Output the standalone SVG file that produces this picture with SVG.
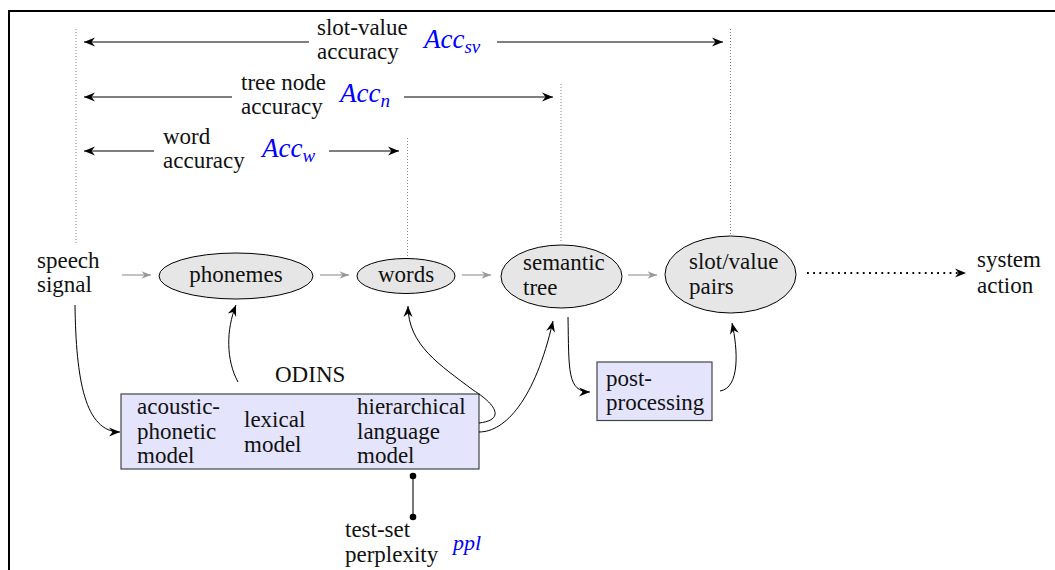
<svg xmlns="http://www.w3.org/2000/svg" width="1055" height="570" viewBox="0 0 1055 570">
  <style>
    text { font-family: 'Liberation Serif', serif; font-size: 23px; fill: #111; }
    .acc { font-style: italic; font-size: 27px; fill: #0000ff; }
    .sub { font-size: 19px; }
    .ppl { font-style: italic; font-size: 22px; fill: #0000ff; }
    .frame { stroke: #000; stroke-width: 2; fill: none; }
    .guide { stroke: #888; stroke-width: 1; stroke-dasharray: 1 2; fill: none; }
    .dim { stroke: #000; stroke-width: 1.1; fill: none; marker-end: url(#stealth); }
    .flow { stroke: #999; stroke-width: 1.2; fill: none; marker-end: url(#grayhead); }
    .link { stroke: #000; stroke-width: 1; fill: none; marker-end: url(#stealth); }
    .ell { fill: #e6e6e6; stroke: #000; stroke-width: 1; }
    .box { fill: #e4e4fc; stroke: #444; stroke-width: 1.2; }
  </style>
  <defs>
    <marker id="stealth" viewBox="-12 -6 13 12" refX="0" refY="0" markerWidth="13" markerHeight="12" markerUnits="userSpaceOnUse" orient="auto">
      <path d="M0,0 L-11,-4.5 L-7.5,0 L-11,4.5 Z" fill="#000"/>
    </marker>
    <marker id="grayhead" viewBox="-11 -5 12 10" refX="0" refY="0" markerWidth="12" markerHeight="10" markerUnits="userSpaceOnUse" orient="auto">
      <path d="M0,0 L-9.5,-3.8 L-6.5,0 L-9.5,3.8 Z" fill="#999"/>
    </marker>
  </defs>

  <rect width="1055" height="570" fill="#fff"/>

  <!-- frame: top and left edges -->
  <path class="frame" d="M1055,11 L9,11 L9,570"/>

  <!-- dotted guides from the stages up to the accuracy bars -->
  <g id="guides">
    <line class="guide" x1="76" y1="29" x2="76" y2="244"/>
    <line class="guide" x1="407.5" y1="138" x2="407.5" y2="256"/>
    <line class="guide" x1="561" y1="84" x2="561" y2="243"/>
    <line class="guide" x1="730.5" y1="29" x2="730.5" y2="235"/>
  </g>

  <!-- accuracy measures -->
  <g id="acc-slot-value">
    <line class="dim" x1="309" y1="42" x2="84" y2="42"/>
    <line class="dim" x1="497" y1="42" x2="723" y2="42"/>
    <text x="317" y="35">slot-value</text>
    <text x="317" y="59">accuracy</text>
    <text class="acc" x="424" y="48">Acc<tspan class="sub" dy="5">sv</tspan></text>
  </g>
  <g id="acc-tree-node">
    <line class="dim" x1="232" y1="97" x2="84" y2="97"/>
    <line class="dim" x1="404" y1="97" x2="553" y2="97"/>
    <text x="241" y="90">tree node</text>
    <text x="241" y="114">accuracy</text>
    <text class="acc" x="340" y="102">Acc<tspan class="sub" dy="5">n</tspan></text>
  </g>
  <g id="acc-word">
    <line class="dim" x1="154" y1="151" x2="84" y2="151"/>
    <line class="dim" x1="329" y1="151" x2="399" y2="151"/>
    <text x="163" y="144">word</text>
    <text x="163" y="168">accuracy</text>
    <text class="acc" x="262" y="157">Acc<tspan class="sub" dy="5">w</tspan></text>
  </g>

  <!-- processing chain -->
  <g id="speech-signal">
    <text x="37" y="268">speech</text>
    <text x="37" y="292">signal</text>
  </g>
  <g id="phonemes">
    <ellipse class="ell" cx="236" cy="276" rx="77" ry="23"/>
    <text x="236" y="282" text-anchor="middle">phonemes</text>
  </g>
  <g id="words">
    <ellipse class="ell" cx="406" cy="276" rx="49" ry="17.5"/>
    <text x="406" y="282" text-anchor="middle">words</text>
  </g>
  <g id="semantic-tree">
    <ellipse class="ell" cx="561.5" cy="276.5" rx="60.5" ry="31.5"/>
    <text x="523" y="270">semantic</text>
    <text x="523" y="295">tree</text>
  </g>
  <g id="slot-value-pairs">
    <ellipse class="ell" cx="730.5" cy="274.5" rx="65.5" ry="38.5"/>
    <text x="689" y="269">slot/value</text>
    <text x="689" y="294">pairs</text>
  </g>
  <g id="system-action">
    <text x="977" y="267">system</text>
    <text x="977" y="293">action</text>
  </g>
  <g id="post-processing">
    <rect class="box" x="597" y="362" width="115" height="58.5"/>
    <text x="606" y="386">post-</text>
    <text x="606" y="410">processing</text>
  </g>
  <g id="odins">
    <text x="275" y="382">ODINS</text>
    <rect class="box" x="121" y="394" width="358" height="75"/>
    <text x="137" y="414">acoustic-</text>
    <text x="137" y="438.5">phonetic</text>
    <text x="137" y="463">model</text>
    <text x="244" y="427">lexical</text>
    <text x="244" y="451.5">model</text>
    <text x="357" y="414">hierarchical</text>
    <text x="357" y="438.5">language</text>
    <text x="357" y="463">model</text>
  </g>
  <g id="perplexity">
    <line x1="413" y1="476" x2="413" y2="517" stroke="#777" stroke-width="2"/>
    <circle cx="413" cy="476" r="3.3" fill="#000"/>
    <circle cx="413" cy="517" r="3.3" fill="#000"/>
    <text x="345" y="537">test-set</text>
    <text x="345" y="562">perplexity</text>
    <text class="ppl" x="453" y="550">ppl</text>
  </g>

  <!-- connectors -->
  <g id="connectors">
    <line class="flow" x1="122" y1="275" x2="151" y2="275"/>
    <line class="flow" x1="320" y1="275" x2="349" y2="275"/>
    <line class="flow" x1="462" y1="275" x2="491" y2="275"/>
    <line class="flow" x1="628" y1="275" x2="657" y2="275"/>
    <line x1="807" y1="273" x2="966" y2="273" stroke="#000" stroke-width="1.8" stroke-dasharray="1.8 4.4" marker-end="url(#stealth)"/>
    <path class="link" d="M75,305 C76,380 85,432 120,432"/>
    <path class="link" d="M238,382 C226,360 226,330 236,305"/>
    <path class="link" d="M479,423 C505,420 497,405 473,390 C440,365 408,345 408,306"/>
    <path class="link" d="M479,432 C505,432 535,400 553,321"/>
    <path class="link" d="M568,317 C569,370 567,392 590,392"/>
    <path class="link" d="M720,391 C740,388 738,350 732,323"/>
  </g>
</svg>
